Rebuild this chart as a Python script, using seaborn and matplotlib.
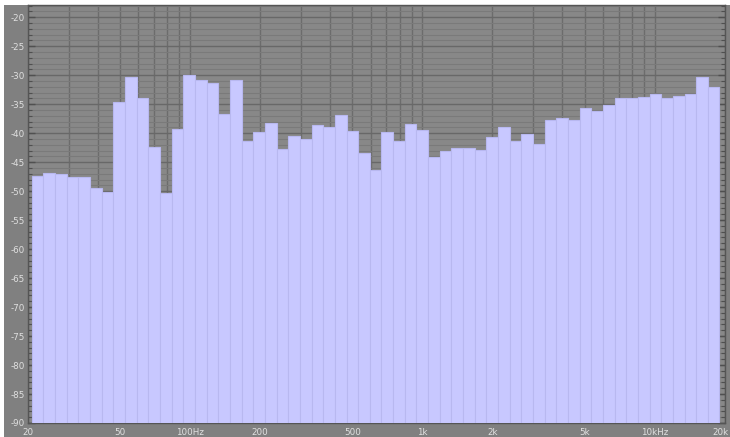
import numpy as np
import matplotlib
matplotlib.use("Agg")
import matplotlib.pyplot as plt
import matplotlib.transforms as mtransforms
import seaborn as sns
from matplotlib.ticker import FixedLocator, LogLocator, MultipleLocator, NullFormatter, FixedFormatter
from matplotlib.patches import Rectangle

# 1/6-octave band nominal centre frequencies (Hz)
band_centers_hz = [22.4, 25, 28, 31.5, 35.5, 40, 45, 50, 56, 63, 71, 80, 90,
                   100, 112, 125, 140, 160, 180, 200, 224, 250, 280, 315, 355,
                   400, 450, 500, 560, 630, 710, 800, 900, 1000, 1120, 1250,
                   1400, 1600, 1800, 2000, 2240, 2500, 2800, 3150, 3550, 4000,
                   4500, 5000, 5600, 6300, 7100, 8000, 9000, 10000, 11200,
                   12500, 14000, 16000, 18000]

# Band levels (dB)
level_db = [-47.4, -46.8, -47.1, -47.5, -47.5, -49.4, -50.2, -34.7, -30.4,
            -34.0, -42.4, -50.4, -39.3, -29.9, -30.8, -31.4, -36.7, -30.8,
            -41.4, -39.8, -38.2, -42.8, -40.5, -41.0, -38.6, -38.9, -36.9,
            -39.6, -43.4, -46.3, -39.8, -41.3, -38.5, -39.4, -44.1, -43.1,
            -42.5, -42.5, -42.9, -40.6, -39.0, -41.4, -40.2, -41.9, -37.7,
            -37.4, -37.7, -35.6, -36.2, -35.2, -34.0, -34.0, -33.8, -33.2,
            -33.9, -33.6, -33.3, -30.4, -32.1]

x_tick_values = [20, 50, 100, 200, 500, 1000, 2000, 5000, 10000, 20000]
x_tick_labels = ["20", "50", "100Hz", "200", "500", "1k", "2k", "5k", "10kHz", "20k"]
y_tick_values = [-90, -85, -80, -75, -70, -65, -60, -55, -50, -45, -40, -35, -30, -25, -20]
y_tick_labels = ["-90", "-85", "-80", "-75", "-70", "-65", "-60", "-55", "-50",
                 "-45", "-40", "-35", "-30", "-25", "-20"]

sns.set_theme(style="dark")
plt.rcParams["font.family"] = ["DejaVu Sans"]
plt.rcParams["axes.unicode_minus"] = False

W, H = 730, 437
fig = plt.figure(figsize=(W / 100, H / 100), dpi=100, facecolor="white")
fig.patches.append(Rectangle((4 / W, 0), 1, (H - 5) / H, transform=fig.transFigure,
                             facecolor="#808080", edgecolor="none", zorder=-10))

ax = fig.add_axes([27.6 / W, (H - 423) / H, (724.5 - 27.6) / W, (423 - 5) / H])
ax.set_zorder(5)
ax.set_facecolor("#888888")
ax.set_xscale("log")
ax.set_xlim(20, 20000)
ax.set_ylim(-90, -17.9)

centers = np.array(band_centers_hz, dtype=float)
band = np.round(6 * np.log2(centers / 1000.0))
lo = 1000.0 * 2 ** ((band - 0.5) / 6)
hi = 1000.0 * 2 ** ((band + 0.5) / 6)
vals = np.array(level_db)
ax.bar(lo, vals - (-90), width=hi - lo, bottom=-90, align="edge",
       color="#c8c8ff", edgecolor="#b8b8f0", linewidth=0.8, zorder=3)

# ticks / grid
ax.xaxis.set_major_locator(FixedLocator(x_tick_values))
ax.xaxis.set_major_formatter(FixedFormatter(x_tick_labels))
ax.xaxis.set_minor_locator(LogLocator(base=10, subs=np.arange(1, 10)))
ax.xaxis.set_minor_formatter(NullFormatter())
ax.yaxis.set_major_locator(FixedLocator(y_tick_values))
ax.yaxis.set_major_formatter(FixedFormatter(y_tick_labels))
ax.yaxis.set_minor_locator(MultipleLocator(1))

ax.grid(False)
ax.grid(axis="x", which="both", color="#6c6c6c", linewidth=1.0, zorder=1)
ax.grid(axis="y", which="minor", color="#7a7a7a", linewidth=0.8, zorder=1)
ax.grid(axis="y", which="major", color="#686868", linewidth=1.0, zorder=1)

ax.tick_params(axis="x", which="both", length=0, pad=3.5, labelsize=6.3, labelcolor="#e0e0e0")
ax.tick_params(axis="y", which="major", direction="in", length=5, width=1, color="#505050",
               left=True, right=True, pad=2, labelsize=6.3, labelcolor="#e0e0e0")
ax.tick_params(axis="y", which="minor", direction="in", length=3, width=0.8, color="#505050",
               left=True, right=True)

for s in ax.spines.values():
    s.set_visible(True)
    s.set_color("#555555")
    s.set_linewidth(1.0)

# keep the last x label inside the figure
last = ax.get_xticklabels()[-1]
last.set_transform(last.get_transform() + mtransforms.ScaledTranslation(-4 / 100, 0, fig.dpi_scale_trans))

fig.savefig("out.png", dpi=100, facecolor="white")
